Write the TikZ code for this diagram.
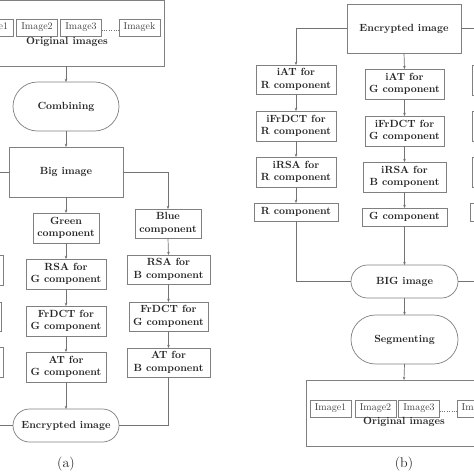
\documentclass[tikz,border=0pt]{standalone}
\usetikzlibrary{shapes.misc,arrows.meta}
\begin{document}
\begin{tikzpicture}[x=1pt,y=-1pt,
  every node/.style={inner sep=0pt, outer sep=0pt},
  lbl/.style={font=\fontsize{10.4}{12.5}\selectfont\bfseries, text=black!85, align=center},
  box/.style={draw=black!50, line width=0.7pt, rectangle, lbl},
  stad/.style={draw=black!50, line width=0.7pt, rounded rectangle, lbl},
  imgbox/.style={draw=black!50, line width=0.6pt, rectangle, minimum width=41pt, minimum height=17pt, font=\fontsize{10}{12}\selectfont, text=black!75},
  bigbox/.style={draw=black!50, line width=0.7pt, rectangle, minimum width=196pt, minimum height=66pt},
  line/.style={draw=black!55, line width=0.7pt},
  arr/.style={line, -{Stealth[length=3.2pt,width=2.6pt]}},
  captxt/.style={font=\fontsize{14}{16}\selectfont, text=black!85}
]
\clip (0,0) rectangle (474,474);
\fill[white] (0,0) rectangle (474,474);

% ================= (a) =================
\node[bigbox] (oa) at (66,33) {};
\node[imgbox] (a1) at (-7.5,27.5) {Image1};
\node[imgbox] (a2) at (37,27.5) {Image2};
\node[imgbox] (a3) at (81,27.5) {Image3};
\node[imgbox] (ak) at (139.5,27.5) {Imagek};
\draw[dotted, black!55] ([yshift=-3pt]a3.east) -- ([yshift=-3pt]ak.west);
\node[lbl, anchor=base] (oat) at (67,44) {Original images};

\node[stad, minimum width=106pt, minimum height=49pt] (comb) at (66,106.5) {Combining};
\node[box, minimum width=114pt, minimum height=50pt] (biga) at (66,172) {Big image};

\node[box, minimum width=66pt, minimum height=30pt] (gc) at (66,228) {Green\\component};
\node[box, minimum width=80pt, minimum height=30pt] (rsag) at (66,274) {RSA for\\G component};
\node[box, minimum width=80pt, minimum height=30pt] (frg) at (66,321) {FrDCT for\\G component};
\node[box, minimum width=80pt, minimum height=30pt] (atg) at (66,367) {AT for\\G component};

\node[box, minimum width=66pt, minimum height=29pt] (bc) at (168,223.5) {Blue\\component};
\node[box, minimum width=83pt, minimum height=29pt] (rsab) at (168.5,269.5) {RSA for\\B component};
\node[box, minimum width=79pt, minimum height=29pt] (frb) at (168.5,316.5) {FrDCT for\\G component};
\node[box, minimum width=83pt, minimum height=29pt] (atb) at (168.5,362.5) {AT for\\B component};

\node[box, minimum width=83pt, minimum height=30pt] (rsar) at (-38,270) {RSA for\\R component};
\node[box, minimum width=79pt, minimum height=29pt] (frr) at (-38,316.5) {FrDCT for\\R component};
\node[box, minimum width=83pt, minimum height=30pt] (atr) at (-38,362) {AT for\\R component};
\coordinate (redtop) at (-38,172);

\node[stad, minimum width=106pt, minimum height=33pt] (enca) at (66,425.5) {Encrypted image};
\node[captxt] (capa) at (66,464) {(a)};

\draw[arr] (oa.south) -- (comb.north);
\draw[arr] (comb.south) -- (biga.north);
\draw[arr] (biga.south) -- (gc.north);
\draw[arr] (gc.south) -- (rsag.north);
\draw[arr] (rsag.south) -- (frg.north);
\draw[arr] (frg.south) -- (atg.north);
\draw[arr] (atg.south) -- (enca.north);
\draw[arr] (biga.east) -| (bc.north);
\draw[arr] (bc.south) -- (rsab.north);
\draw[arr] (rsab.south) -- (frb.north);
\draw[arr] (frb.south) -- (atb.north);
\draw[line] (atb.south) |- (enca.east);
\draw[line] (biga.west) -- (redtop);
\draw[arr] (rsar.south) -- (frr.north);
\draw[arr] (frr.south) -- (atr.north);
\draw[line] (atr.south) |- (enca.west);

% ================= (b) =================
\node[box, minimum width=114pt, minimum height=49pt] (encb) at (404,28.5) {Encrypted image};

\node[box, minimum width=80pt, minimum height=29pt] (iatr) at (296,79.5) {iAT for\\R component};
\node[box, minimum width=80pt, minimum height=30pt] (ifrr) at (296,126) {iFrDCT for\\R component};
\node[box, minimum width=80pt, minimum height=30pt] (irsar) at (296,172) {iRSA for\\R component};
\node[box, minimum width=84pt, minimum height=18pt] (rcomp) at (296,212) {R component};

\node[box, minimum width=79pt, minimum height=30pt] (iatg) at (404.5,84) {iAT for\\G component};
\node[box, minimum width=79pt, minimum height=30pt] (ifrg) at (404.5,131) {iFrDCT for\\G component};
\node[box, minimum width=83pt, minimum height=30pt] (irsab) at (404.5,177) {iRSA for\\B component};
\node[box, minimum width=85pt, minimum height=18pt] (gcomp) at (404.5,217) {G component};

\node[box, minimum width=80pt, minimum height=30pt] (iatb) at (512,80) {iAT for\\B component};
\node[box, minimum width=80pt, minimum height=30pt] (ifrb) at (512,126) {iFrDCT for\\B component};
\node[box, minimum width=80pt, minimum height=30pt] (irsag) at (512,172) {iRSA for\\G component};
\node[box, minimum width=84pt, minimum height=18pt] (bcomp) at (512,212) {B component};

\node[stad, minimum width=107pt, minimum height=33pt] (bigb) at (404.5,281.5) {BIG image};
\node[stad, minimum width=107pt, minimum height=49pt] (seg) at (404.5,339.5) {Segmenting};

\node[bigbox] (ob) at (404,413) {};
\node[imgbox] (b1) at (330.5,408.5) {Image1};
\node[imgbox] (b2) at (375.5,408.5) {Image2};
\node[imgbox] (b3) at (419,408.5) {Image3};
\node[imgbox] (bk) at (477.5,408.5) {Imagek};
\draw[dotted, black!55] ([yshift=-3pt]b3.east) -- ([yshift=-3pt]bk.west);
\node[lbl, anchor=base] (obt) at (404,424) {Original images};
\node[captxt] (capb) at (404,464) {(b)};

\draw[arr] (encb.west) -| (iatr.north);
\draw[arr] (encb.south) -- (iatg.north);
\draw[arr] (encb.east) -| (iatb.north);
\draw[arr] (iatr.south) -- (ifrr.north);
\draw[arr] (ifrr.south) -- (irsar.north);
\draw[arr] (irsar.south) -- (rcomp.north);
\draw[arr] (iatg.south) -- (ifrg.north);
\draw[arr] (ifrg.south) -- (irsab.north);
\draw[arr] (irsab.south) -- (gcomp.north);
\draw[arr] (iatb.south) -- (ifrb.north);
\draw[arr] (ifrb.south) -- (irsag.north);
\draw[arr] (irsag.south) -- (bcomp.north);
\draw[arr] (gcomp.south) -- (bigb.north);
\draw[line] (rcomp.south) |- (bigb.west);
\draw[line] (bcomp.south) |- (bigb.east);
\draw[arr] (bigb.south) -- (seg.north);
\draw[arr] (seg.south) -- (ob.north);
\end{tikzpicture}
\end{document}
